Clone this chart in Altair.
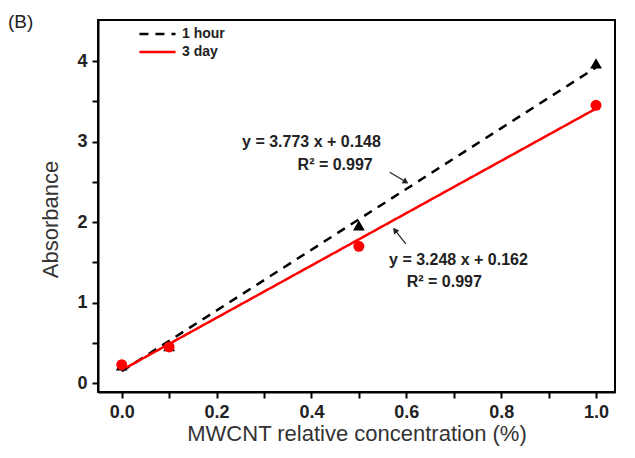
import altair as alt
import pandas as pd

# ---- data ----
series = ["1 hour", "3 day"]
conc = [0.0, 0.1, 0.5, 1.0]
abs_1h = [0.22, 0.46, 1.96, 3.97]
abs_3d = [0.23, 0.45, 1.70, 3.45]

fit_x = [0.0, 1.0]
fit_1h = [0.148, 3.92]
fit_3d = [0.162, 3.41]

ann_text = ["y = 3.773 x + 0.148", "R\u00b2 = 0.997", "y = 3.248 x + 0.162", "R\u00b2 = 0.997"]
ann_x = [0.40, 0.45, 0.71, 0.68]
ann_y = [2.99, 2.71, 1.53, 1.25]

arrow_x = [0.565, 0.599]
arrow_y = [2.62, 1.73]
arrow_x2 = [0.599, 0.576]
arrow_y2 = [2.50, 1.90]
arrow_angle = [122, 322]

FONT = "Liberation Sans"

fit_df = pd.DataFrame({
    "series": [series[0]] * 2 + [series[1]] * 2,
    "x": fit_x + fit_x,
    "y": fit_1h + fit_3d,
})
pts_1h = pd.DataFrame({"x": conc, "y": abs_1h})
pts_3d = pd.DataFrame({"x": conc, "y": abs_3d})
ann_df = pd.DataFrame({"x": ann_x, "y": ann_y, "t": ann_text})
arr_df = pd.DataFrame({"x": arrow_x, "y": arrow_y, "x2": arrow_x2, "y2": arrow_y2, "a": arrow_angle})

xscale = alt.Scale(domain=[-0.05, 1.04], nice=False, zero=False)
yscale = alt.Scale(domain=[-0.11, 4.51], nice=False, zero=False)

xaxis = alt.Axis(
    values=[0, 0.1, 0.2, 0.3, 0.4, 0.5, 0.6, 0.7, 0.8, 0.9, 1.0],
    labelExpr="round(datum.value*10) % 2 == 0 ? format(datum.value, '.1f') : ''",
    titlePadding=2,
    labelPadding=5,
)
yaxis = alt.Axis(
    values=[0, 0.5, 1, 1.5, 2, 2.5, 3, 3.5, 4],
    labelExpr="datum.value % 1 == 0 ? format(datum.value, 'd') : ''",
    titlePadding=14,
    labelPadding=5,
    titleY=199,
)

X = alt.X("x:Q", scale=xscale, axis=xaxis, title="MWCNT relative concentration (%)")
Y = alt.Y("y:Q", scale=yscale, axis=yaxis, title="Absorbance")

leg = alt.Legend(
    title=None, orient="none", legendX=40, legendY=7,
    symbolType="stroke", symbolSize=1300, symbolStrokeWidth=2.5,
    clipHeight=14,
    labelFont=FONT, labelFontSize=14, labelFontWeight="bold", labelColor="#222",
    rowPadding=4, labelOffset=5,
)

lines = alt.Chart(fit_df).mark_line(strokeWidth=2.5).encode(
    x=X, y=Y,
    color=alt.Color("series:N", scale=alt.Scale(domain=series, range=["#000000", "#ff0000"]), legend=leg),
    strokeDash=alt.StrokeDash("series:N", scale=alt.Scale(domain=series, range=[[9, 7], [1, 0]]), legend=leg),
)

tri = alt.Chart(pts_1h).mark_point(shape="triangle-up", filled=True, size=140, color="#000000", opacity=1).encode(x=X, y=Y)
dots = alt.Chart(pts_3d).mark_point(shape="circle", filled=True, size=120, color="#ff0000", opacity=1).encode(x=X, y=Y)

ann = alt.Chart(ann_df).mark_text(font=FONT, fontSize=16, fontWeight="bold", color="#222").encode(x=X, y=Y, text="t:N")

arr_lines = alt.Chart(arr_df).mark_rule(color="#222", strokeWidth=1.2).encode(x=X, y=Y, x2="x2:Q", y2="y2:Q")
arr_heads = alt.Chart(arr_df).mark_point(shape="triangle-up", filled=True, size=45, color="#222", opacity=1).encode(
    x=alt.X("x2:Q", scale=xscale), y=alt.Y("y2:Q", scale=yscale), angle=alt.Angle("a:Q", scale=None)
)

label_b = alt.Chart(pd.DataFrame({"t": ["(B)"]})).mark_text(
    font=FONT, fontSize=19, color="#222", align="left", baseline="middle"
).encode(x=alt.value(-90), y=alt.value(2), text="t:N")

chart = alt.layer(lines, tri, dots, arr_lines, arr_heads, ann, label_b).properties(
    width=517, height=372,
    autosize=alt.AutoSizeParams(type="none"),
    padding={"left": 90, "top": 12, "right": 4, "bottom": 58},
).configure_view(
    stroke="#000000", strokeWidth=2
).configure_axis(
    domainColor="#000000", domainWidth=2, tickColor="#000000", tickWidth=2, tickSize=6,
    labelFont=FONT, labelFontSize=18, labelFontWeight="bold", labelColor="#222",
    titleFont=FONT, titleFontSize=22, titleFontWeight="normal", titleColor="#333",
    grid=False,
)

chart.save("out.html", embed_options={"renderer": "svg", "actions": False})
